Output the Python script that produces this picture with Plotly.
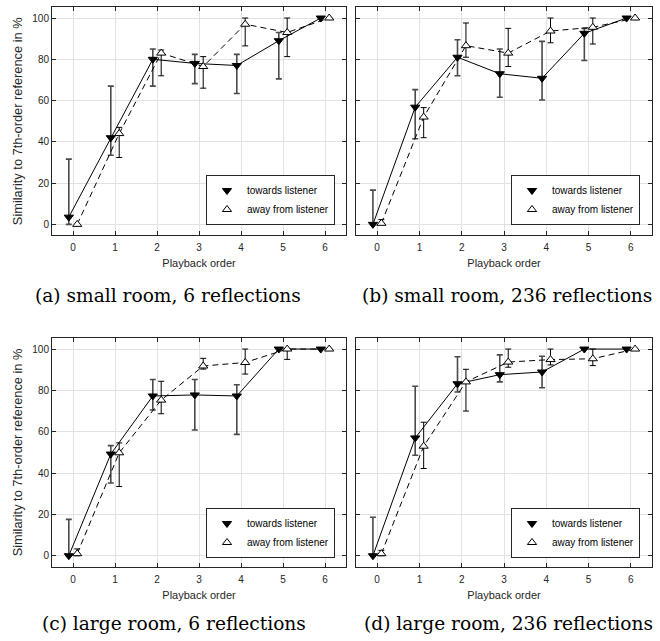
import plotly.graph_objects as go

# ---------------- data ----------------
orders = [0, 1, 2, 3, 4, 5, 6]
x_tick_vals = [0, 1, 2, 3, 4, 5, 6]
y_tick_vals = [0, 20, 40, 60, 80, 100]
series_names = ["towards listener", "away from listener"]
captions = ["(a) small room, 6 reflections", "(b) small room, 236 reflections",
            "(c) large room, 6 reflections", "(d) large room, 236 reflections"]
x_title = "Playback order"
y_title = "Similarity to 7th-order reference in %"

# (a) small room, 6 reflections
a_tow = [3.5, 42, 80, 78, 77, 89, 100]
a_tow_hi = [31.6, 67, 85, 82.4, 82.4, 93, 100]
a_tow_lo = [0, 33.5, 67, 68.2, 63.4, 70.5, 100]
a_away = [0, 44, 83, 76.5, 97, 93, 100]
a_away_hi = [0, 47, 84.5, 81.3, 100, 100, 100]
a_away_lo = [0, 32.4, 72, 66, 86.5, 81.3, 100]

# (b) small room, 236 reflections
b_tow = [0, 56.8, 81, 73, 70.8, 92.6, 100]
b_tow_hi = [16.6, 65.3, 89.5, 85, 88.7, 95, 100]
b_tow_lo = [0, 41.5, 72, 61.6, 60.3, 79.4, 100]
b_away = [0.5, 52, 86.6, 83, 93.7, 95.5, 100]
b_away_hi = [2.3, 56.6, 97.6, 95, 100, 100, 100]
b_away_lo = [0, 42, 81, 76.5, 88, 87.4, 100]

# (c) large room, 6 reflections
c_tow = [0, 49.2, 77.3, 77.8, 77.3, 100, 100]
c_tow_hi = [17.6, 53.3, 85.3, 85.3, 82.7, 100, 100]
c_tow_lo = [0, 35.2, 70.5, 60.8, 58.7, 100, 100]
c_away = [1, 49.8, 75.3, 91.8, 93.5, 100, 100]
c_away_hi = [3.3, 54.6, 84.4, 95.5, 100, 100, 100]
c_away_lo = [0, 33.5, 68.7, 90.3, 87.9, 95, 100]

# (d) large room, 236 reflections
d_tow = [0, 57, 83.2, 87.6, 88.9, 100, 100]
d_tow_hi = [18.6, 82, 96.3, 97.2, 96.5, 100, 100]
d_tow_lo = [0, 48.6, 79.2, 84.1, 81.3, 100, 100]
d_away = [1, 53, 84.1, 93.7, 94.9, 95.3, 100]
d_away_hi = [2.6, 64.6, 90.2, 100, 100, 100, 100]
d_away_lo = [0, 42.2, 70, 91.2, 92.3, 92, 100]

panels = [
    (a_tow, a_tow_hi, a_tow_lo, a_away, a_away_hi, a_away_lo),
    (b_tow, b_tow_hi, b_tow_lo, b_away, b_away_hi, b_away_lo),
    (c_tow, c_tow_hi, c_tow_lo, c_away, c_away_hi, c_away_lo),
    (d_tow, d_tow_hi, d_tow_lo, d_away, d_away_hi, d_away_lo),
]

# ---------------- layout geometry (pixels) ----------------
W, H = 660, 641
x_doms_px = [(52, 346), (356, 652), (52, 346), (356, 652)]
y_doms_px = [(7.3, 235.3), (7.3, 235.3), (338.3, 566.7), (338.3, 566.7)]
legend_px = [(335, 225), (640, 225), (335, 558), (640, 558)]
caption_px = [(168, 295), (507, 295), (174, 623), (508, 623)]

AX = "#262626"
GRID = "#e2e2e2"
SANS = "Liberation Sans, Arial, sans-serif"
SERIF = "DejaVu Serif, serif"

fig = go.Figure()

offset = 0.1
for i, (tw, twh, twl, aw, awh, awl) in enumerate(panels):
    sfx = "" if i == 0 else str(i + 1)
    xa, ya = "x" + sfx, "y" + sfx
    leg = "legend" + sfx
    xt = [o - offset for o in orders]
    xw = [o + offset for o in orders]
    fig.add_trace(go.Scatter(
        x=xt, y=tw, xaxis=xa, yaxis=ya, mode="lines+markers", showlegend=False,
        line=dict(color="black", width=1),
        marker=dict(symbol="triangle-down", size=8, color="black",
                    line=dict(color="black", width=1)),
        error_y=dict(type="data", symmetric=False,
                     array=[h - v for h, v in zip(twh, tw)],
                     arrayminus=[v - l for v, l in zip(tw, twl)],
                     color="#4a4a4a", thickness=1.6, width=3),
    ))
    fig.add_trace(go.Scatter(
        x=xw, y=aw, xaxis=xa, yaxis=ya, mode="lines+markers", showlegend=False,
        line=dict(color="black", width=1, dash="6px,4px"),
        marker=dict(symbol="triangle-up", size=8, color="white",
                    line=dict(color="black", width=1)),
        error_y=dict(type="data", symmetric=False,
                     array=[h - v for h, v in zip(awh, aw)],
                     arrayminus=[v - l for v, l in zip(aw, awl)],
                     color="black", thickness=1, width=3),
    ))
    # legend entries (marker only, as in the original)
    fig.add_trace(go.Scatter(
        x=[None], y=[None], xaxis=xa, yaxis=ya, mode="markers", name=series_names[0],
        legend=leg, showlegend=True,
        marker=dict(symbol="triangle-down", size=8, color="black",
                    line=dict(color="black", width=1)),
    ))
    fig.add_trace(go.Scatter(
        x=[None], y=[None], xaxis=xa, yaxis=ya, mode="markers", name=series_names[1],
        legend=leg, showlegend=True,
        marker=dict(symbol="triangle-up", size=8, color="white",
                    line=dict(color="black", width=1)),
    ))

    x0, x1 = x_doms_px[i]
    yt, yb = y_doms_px[i]
    common = dict(showgrid=True, gridcolor=GRID, gridwidth=1, showline=True,
                  linecolor=AX, linewidth=1, mirror="ticks", ticks="inside",
                  ticklen=4, tickcolor=AX, tickwidth=1, zeroline=False,
                  tickfont=dict(family=SANS, size=10, color=AX))
    xaxis = dict(common, domain=[x0 / W, x1 / W], range=[-0.5, 6.5],
                 tickmode="array", tickvals=x_tick_vals, anchor=ya,
                 ticklabelstandoff=3,
                 title=dict(text=x_title, font=dict(family=SANS, size=11, color=AX),
                            standoff=7))
    yaxis = dict(common, domain=[1 - yb / H, 1 - yt / H], range=[-5.3, 105.2],
                 tickmode="array", tickvals=y_tick_vals, anchor=xa)
    if i % 2 == 0:
        yaxis["title"] = dict(text=y_title, font=dict(family=SANS, size=12.8, color=AX),
                              standoff=6)
    else:
        yaxis["showticklabels"] = False
    fig.layout["xaxis" + sfx] = xaxis
    fig.layout["yaxis" + sfx] = yaxis

    lx, ly = legend_px[i]
    fig.layout[leg] = dict(x=lx / W, y=1 - ly / H, xanchor="right", yanchor="bottom",
                           bgcolor="white", bordercolor=AX, borderwidth=1,
                           font=dict(family=SANS, size=10, color="black"),
                           tracegroupgap=0)

    cx, cy = caption_px[i]
    fig.add_annotation(text=captions[i], x=cx / W, y=1 - cy / H, xref="paper",
                       yref="paper", xanchor="center", yanchor="middle",
                       showarrow=False, font=dict(family=SERIF, size=18.6, color="black"))

fig.update_layout(width=W, height=H, margin=dict(l=0, r=0, t=0, b=0),
                  plot_bgcolor="white", paper_bgcolor="white")

fig.write_html("out.html", config={"displayModeBar": False},
               post_script="document.body.style.margin='0px';")
